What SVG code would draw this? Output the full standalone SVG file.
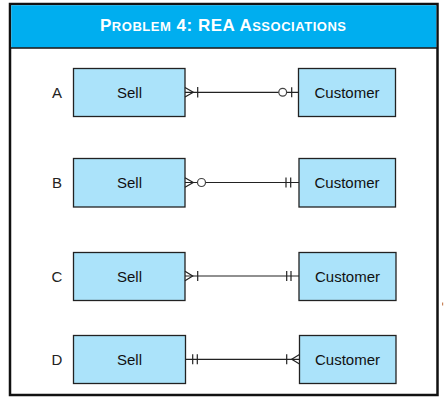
<svg xmlns="http://www.w3.org/2000/svg" width="444" height="402" viewBox="0 0 444 402">
<style>
.ent{fill:#abe3fa;stroke:#222;stroke-width:1.3}
.nm{font-family:"Liberation Sans",Arial,sans-serif;font-size:15px;fill:#111;text-anchor:middle}
.lb{font-family:"Liberation Sans",Arial,sans-serif;font-size:15px;fill:#222;text-anchor:middle}
.ln{stroke:#222;stroke-width:1.2;fill:none}
.mk{stroke:#444;stroke-width:1.2;fill:#fff}
.title{font-family:"Liberation Sans",Arial,sans-serif;font-weight:bold;fill:#fff}
</style>
<rect x="0" y="0" width="444" height="402" fill="#fff"/>
<g id="frame">
<rect x="10" y="4" width="427.5" height="391" fill="#fff" stroke="#111" stroke-width="2.5"/>
<rect x="11.25" y="5.25" width="425" height="42.5" fill="#00aeef"/>
<line x1="10" y1="48" x2="437.5" y2="48" stroke="#111" stroke-width="1.5"/>
<text class="title" x="100" y="31" font-size="17" textLength="246" lengthAdjust="spacing"><tspan>P</tspan><tspan font-size="13">ROBLEM</tspan><tspan> 4: REA A</tspan><tspan font-size="13">SSOCIATIONS</tspan></text>
</g>
<g id="labels">
<text class="lb" x="57" y="97.5">A</text>
<text class="lb" x="57" y="188">B</text>
<text class="lb" x="57" y="281.5">C</text>
<text class="lb" x="57" y="364.5">D</text>
</g>
<g id="sellA"><rect class="ent" x="73.5" y="68.5" width="111.5" height="48"/><text class="nm" x="129.5" y="97.5">Sell</text></g>
<g id="custA"><rect class="ent" x="298.5" y="68.5" width="97" height="48"/><text class="nm" x="347" y="97.5">Customer</text></g>
<g id="sellB"><rect class="ent" x="73.5" y="158.5" width="111.5" height="48.5"/><text class="nm" x="129.5" y="188">Sell</text></g>
<g id="custB"><rect class="ent" x="299" y="158.5" width="96.5" height="48.5"/><text class="nm" x="347" y="188">Customer</text></g>
<g id="sellC"><rect class="ent" x="73.5" y="252.5" width="111.5" height="48"/><text class="nm" x="129.5" y="281.5">Sell</text></g>
<g id="custC"><rect class="ent" x="299" y="252.5" width="97" height="48"/><text class="nm" x="347.5" y="281.5">Customer</text></g>
<g id="sellD"><rect class="ent" x="73.5" y="335.5" width="112" height="48"/><text class="nm" x="129.5" y="364.5">Sell</text></g>
<g id="custD"><rect class="ent" x="299.5" y="335.5" width="96.5" height="48"/><text class="nm" x="347.5" y="364.5">Customer</text></g>
<g id="connectors">
<!-- A -->
<line class="ln" x1="185" y1="92.3" x2="298.5" y2="92.3"/>
<polyline class="ln" points="185,87.5 193.3,92.3 185,97.1" stroke="#444"/>
<line class="ln" x1="197.7" y1="87" x2="197.7" y2="97.5" stroke="#444"/>
<circle class="mk" cx="282.7" cy="92.3" r="3.9"/>
<line class="ln" x1="291.7" y1="87.3" x2="291.7" y2="97.3"/>
<!-- B -->
<line class="ln" x1="185" y1="182.5" x2="299" y2="182.5"/>
<polyline class="ln" points="185,177.7 193.3,182.5 185,187.3" stroke="#444"/>
<circle class="mk" cx="201.5" cy="182.5" r="4"/>
<line class="ln" x1="286" y1="177.5" x2="286" y2="187.5"/>
<line class="ln" x1="290.7" y1="177.5" x2="290.7" y2="187.5"/>
<!-- C -->
<line class="ln" x1="185" y1="276" x2="299" y2="276"/>
<polyline class="ln" points="185,271.2 192.7,276 185,280.8" stroke="#444"/>
<line class="ln" x1="197.7" y1="271" x2="197.7" y2="281" stroke="#444"/>
<line class="ln" x1="286.7" y1="271" x2="286.7" y2="281"/>
<line class="ln" x1="291" y1="271" x2="291" y2="281"/>
<!-- D -->
<line class="ln" x1="185.5" y1="359.3" x2="299.5" y2="359.3"/>
<line class="ln" x1="192.7" y1="354.3" x2="192.7" y2="364.3" stroke="#444"/>
<line class="ln" x1="197.3" y1="354.3" x2="197.3" y2="364.3" stroke="#444"/>
<line class="ln" x1="286.7" y1="354.3" x2="286.7" y2="364.3"/>
<polyline class="ln" points="299.5,354.5 291.7,359.3 299.5,364.1" stroke="#444"/>
</g>
<rect x="442" y="302.5" width="1.2" height="3" fill="#c8845a"/>
</svg>
